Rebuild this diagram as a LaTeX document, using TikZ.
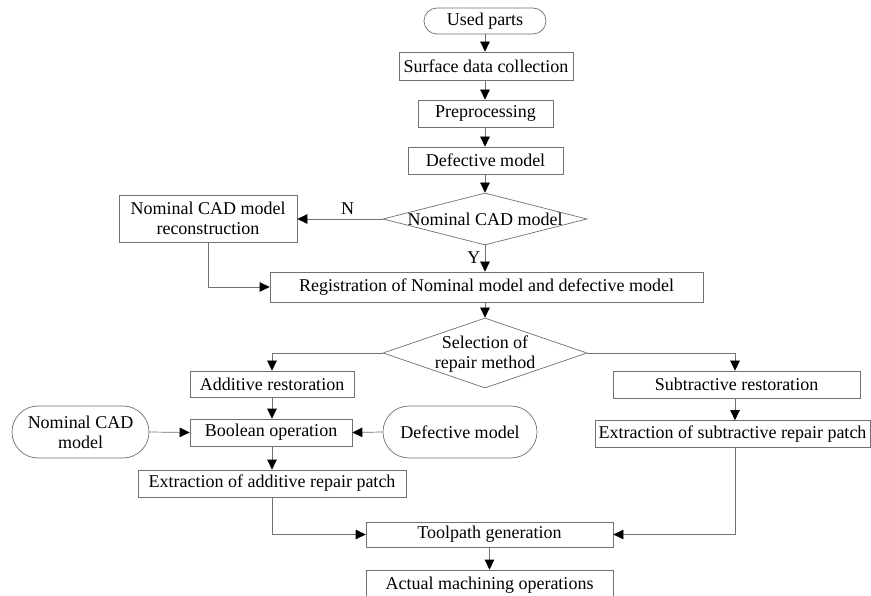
\documentclass[tikz,border=0pt]{standalone}
\usepackage{fontspec}
\setmainfont{Liberation Serif}
\usetikzlibrary{shapes.geometric,arrows.meta}
\definecolor{linegray}{HTML}{707070}
\begin{document}
\begin{tikzpicture}[x=1pt,y=-1pt,
  every node/.style={font=\fontsize{18}{20}\selectfont, text=black, align=center},
  box/.style={draw=linegray, line width=0.7pt, inner sep=0pt, rectangle},
  term/.style={draw=linegray, line width=0.7pt, inner sep=0pt, rectangle, rounded corners=#1},
  dia/.style={draw=linegray, line width=0.7pt, inner sep=0pt, diamond},
  conn/.style={draw=linegray, line width=0.7pt, -{Triangle[length=10pt,width=9.5pt,black]}},
  plain/.style={draw=linegray, line width=0.7pt}
]
\useasboundingbox (0,0) rectangle (871,596);
\fill[white] (0,0) rectangle (871,596);

\node[term=13, minimum width=122, minimum height=26] (used) at (485,21) {Used parts};
\node[box, minimum width=174, minimum height=28] (surf) at (486,66) {Surface data collection};
\node[box, minimum width=135, minimum height=27] (pre) at (485.5,113.5) {Preprocessing};
\node[box, minimum width=155, minimum height=27] (def) at (485.5,160.5) {Defective model};
\node[dia, minimum width=204, minimum height=52] (d1) at (485,219) {};
\node (d1t) at (485,219) {Nominal CAD model};
\node[box, minimum width=178, minimum height=47] (recon) at (208,218.5) {Nominal CAD model\\reconstruction};
\node[box, minimum width=433, minimum height=30] (reg) at (486.5,287) {Registration of Nominal model and defective model};
\node[dia, minimum width=204, minimum height=70] (d2) at (485,353) {};
\node (d2t) at (485,354) {Selection of\\repair method};
\node[box, minimum width=164, minimum height=26] (add) at (272,384) {Additive restoration};
\node[box, minimum width=247, minimum height=27] (sub) at (736.5,384.5) {Subtractive restoration};
\node[box, minimum width=162, minimum height=27] (bool) at (271,432.5) {Boolean operation};
\node[term=26, minimum width=137, minimum height=52] (nom) at (80.5,432) {Nominal CAD\\model};
\node[term=26, minimum width=154, minimum height=52] (defm) at (460,432) {Defective model};
\node[box, minimum width=268, minimum height=27] (exa) at (272,483.5) {Extraction of additive repair patch};
\node[box, minimum width=275, minimum height=27] (exs) at (732.5,434) {Extraction of subtractive repair patch};
\node[box, minimum width=247, minimum height=25] (tool) at (489.5,534.5) {Toolpath generation};
\node[box, minimum width=247, minimum height=30] (act) at (489.5,585) {Actual machining operations};

\draw[conn] (used.south) -- (used.south |- surf.north);
\draw[conn] (used.south |- surf.south) -- (used.south |- pre.north);
\draw[conn] (used.south |- pre.south) -- (used.south |- def.north);
\draw[conn] (used.south |- def.south) -- (d1.north);
\draw[conn] (d1.west) -- (d1.west -| recon.east) node[pos=0.41, above=1pt] (nl) {N};
\draw[conn] (d1.south) -- (d1.south |- reg.north) node[pos=0.45, left=1pt] (yl) {Y};
\draw[conn] (recon.south) |- (reg.west);
\draw[conn] (d2.north |- reg.south) -- (d2.north);
\draw[conn] (d2.west) -| (add.north);
\draw[conn] (d2.east) -| ([xshift=-1.5pt]sub.north);
\draw[conn] (add.south) -- (add.south |- bool.north);
\draw[conn] (nom.east) -- (bool.west);
\draw[conn] (defm.west) -- (bool.east);
\draw[conn] (add.south |- bool.south) -- (add.south |- exa.north);
\draw[conn] ([xshift=-1.5pt]sub.south) -- ([xshift=-1.5pt]sub.south |- exs.north);
\draw[conn] (exa.south) |- (tool.west);
\draw[conn] ([xshift=-1.5pt]sub.south |- exs.south) |- (tool.east);
\draw[conn] (tool.south) -- (act.north);
\end{tikzpicture}
\end{document}
